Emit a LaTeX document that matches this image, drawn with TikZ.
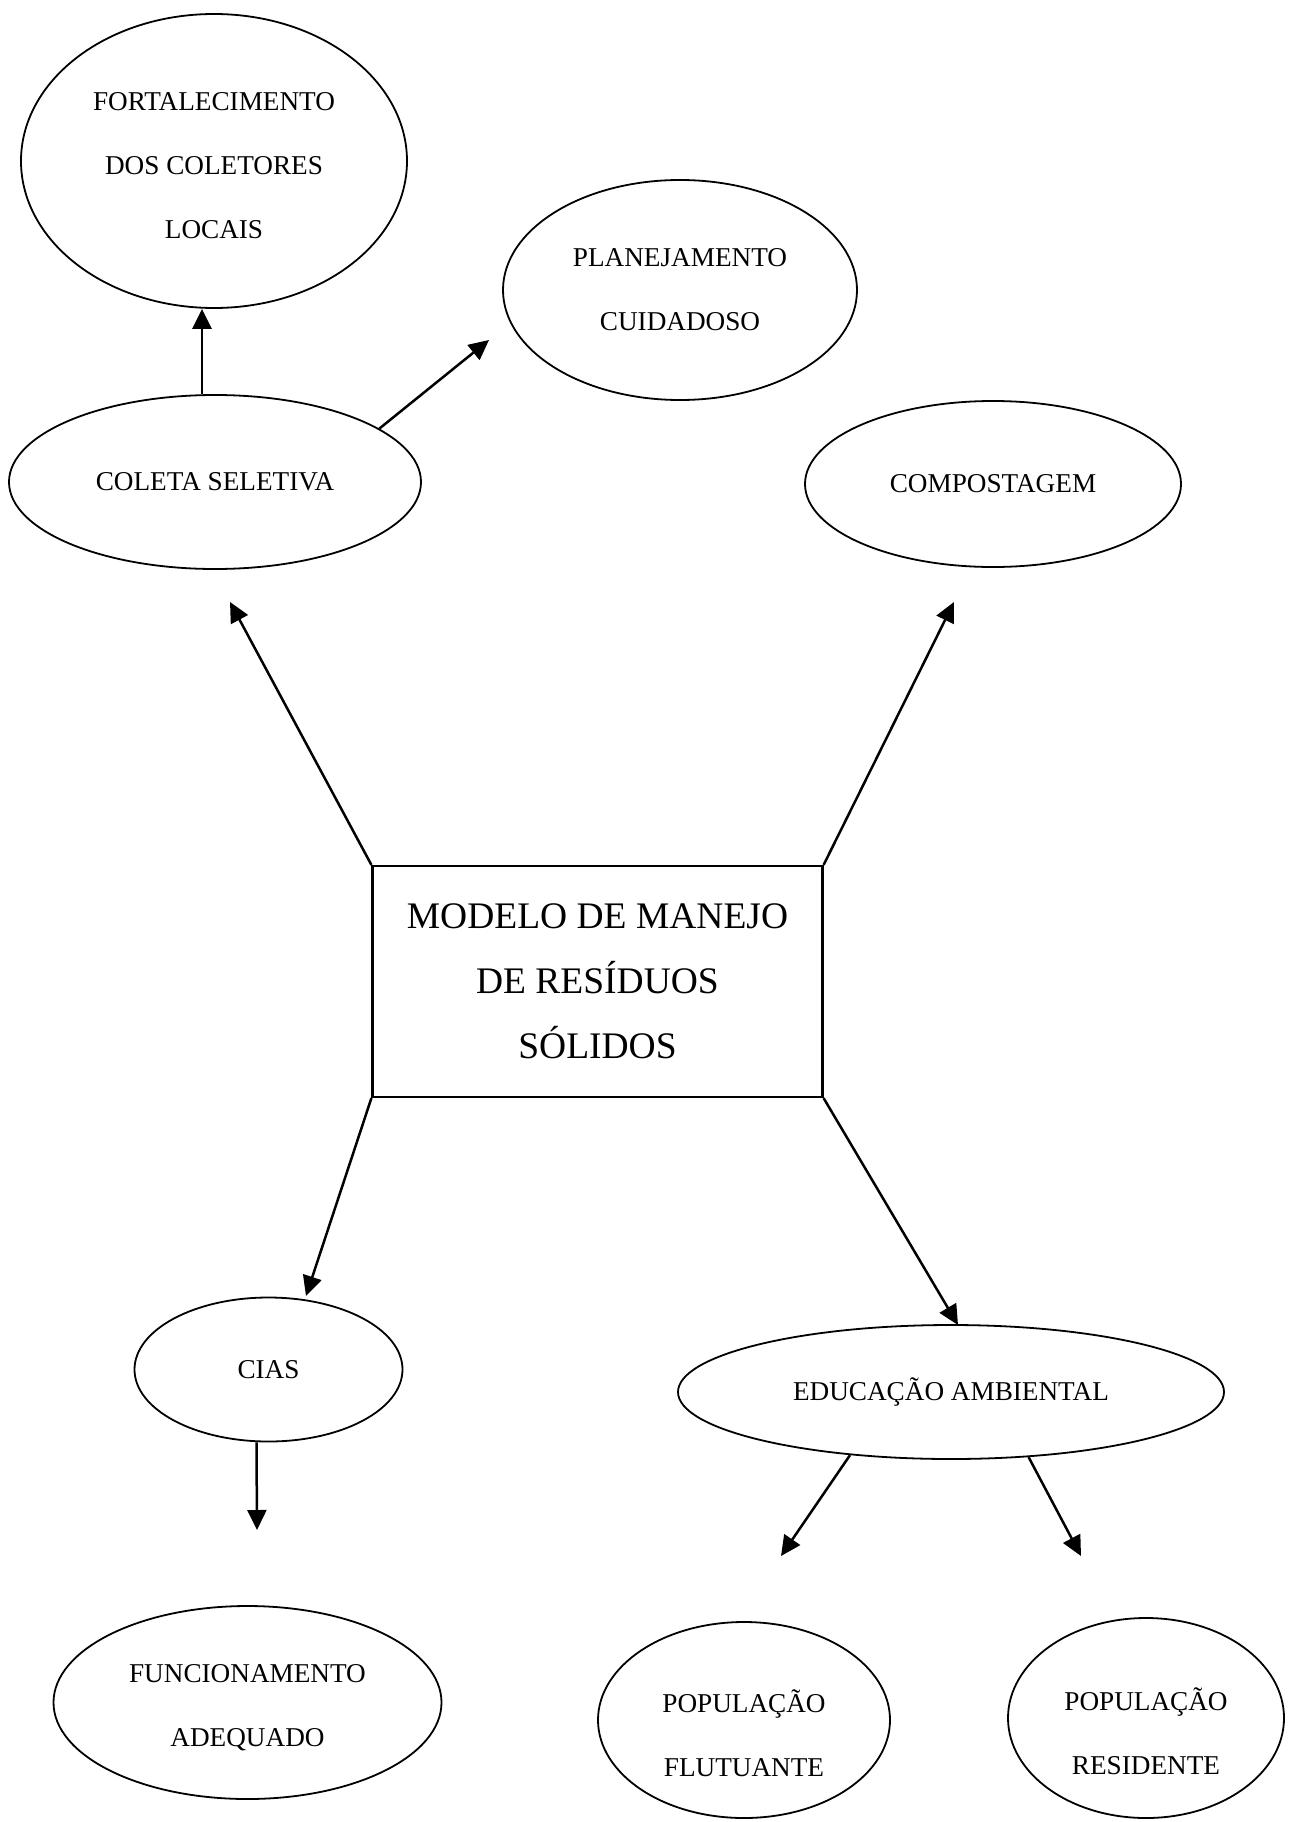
\documentclass[tikz,border=0pt]{standalone}
\usepackage{fontspec}
\setmainfont{Liberation Serif}
\usetikzlibrary{shapes.geometric,arrows.meta}

\begin{document}
\begin{tikzpicture}[x=1pt, y=-1pt, line width=1.8pt, >={Triangle[length=20pt,width=19pt]},
    main/.style = {draw, ellipse, inner sep=0pt, align=center, font=\fontsize{27.2}{64}\selectfont},
    caixa/.style = {draw, rectangle, line width=2.2pt, inner sep=0pt, align=center, minimum width=450pt, minimum height=231pt, font=\fontsize{37.5}{65}\selectfont},
    seta/.style = {->, line width=2.5pt}]
                \useasboundingbox (0,0) rectangle (1297,1822);
                \node[main, minimum width=386pt, minimum height=294pt] (fort) at (214,161) {\rule{0pt}{28pt}FORTALECIMENTO\\DOS COLETORES\\LOCAIS};
                \node[main, minimum width=354pt, minimum height=220pt] (plan) at (680,290) {PLANEJAMENTO\\CUIDADOSO};
                \node[main, minimum width=412pt, minimum height=174pt] (coleta) at (215,482) {COLETA SELETIVA};
                \node[main, minimum width=376pt, minimum height=166pt] (comp) at (993,484) {COMPOSTAGEM};
                \node[caixa] (modelo) at (597.5,981.5) {MODELO DE MANEJO\\DE RESÍDUOS\\SÓLIDOS};
                \node[main, minimum width=268pt, minimum height=144pt] (cias) at (268.5,1369.5) {CIAS};
                \node[main, minimum width=546pt, minimum height=134pt] (educ) at (951,1392) {EDUCAÇÃO AMBIENTAL};
                \node[main, minimum width=388pt, minimum height=193pt] (func) at (247.5,1702.5) {\rule{0pt}{28pt}FUNCIONAMENTO\\ADEQUADO};
                \node[main, minimum width=292pt, minimum height=196pt] (flut) at (744,1720) {\rule{0pt}{49pt}POPULAÇÃO\\FLUTUANTE};
                \node[main, minimum width=276pt, minimum height=200pt] (resid) at (1146,1718) {\rule{0pt}{49pt}POPULAÇÃO\\RESIDENTE};
                % pontas soltas das setas
                \coordinate (tplan) at (489,340);
                \coordinate (tcoleta) at (230,602);
                \coordinate (tcomp) at (954,602);
                \coordinate (tcias) at (306,1296);
                \coordinate (teduc) at (958,1325);
                \coordinate (tfunc) at (257,1530);
                \coordinate (tflut) at (781,1556);
                \coordinate (tresid) at (1081,1556);
                \draw[seta] ([xshift=-13pt]coleta.north) -- ([xshift=-12pt]fort.south);
                \draw[seta] (coleta.18) -- (tplan);
                \draw[seta] (modelo.north west) -- (tcoleta);
                \draw[seta] (modelo.north east) -- (tcomp);
                \draw[seta] (modelo.south west) -- (tcias);
                \draw[seta] (modelo.south east) -- (teduc);
                \draw[seta] ([xshift=-12pt]cias.south) -- (tfunc);
                \draw[seta] (educ.212) -- (tflut);
                \draw[seta] (educ.320) -- (tresid);
            \end{tikzpicture}
\end{document}
